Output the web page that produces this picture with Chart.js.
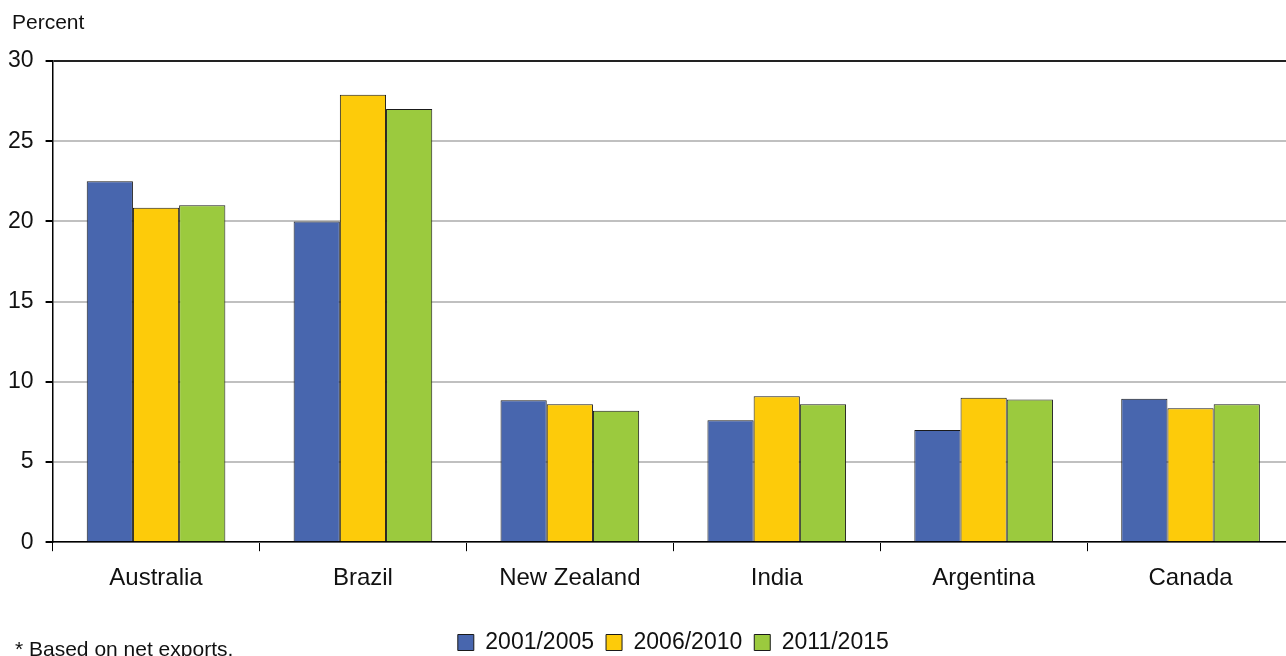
<!DOCTYPE html>
<html>
<head>
<meta charset="utf-8">
<script src="https://cdn.jsdelivr.net/npm/chart.js@4.4.1/dist/chart.umd.min.js"></script>
<style>
  html, body { margin: 0; padding: 0; background: #fff; overflow: hidden; }
  body { width: 1286px; height: 656px; position: relative; font-family: "Liberation Sans", Arial, sans-serif; }
  #wrap { position: absolute; left: 0; top: 0; width: 1294px; height: 656px; }
  .note { position: absolute; color: #111; line-height: 1; }
</style>
</head>
<body>
<div id="wrap"><canvas id="barChart"></canvas></div>
<div class="note" style="left:12px; top:11px; font-size:21px;">Percent</div>
<div class="note" style="left:15px; top:638px; font-size:21px;">* Based on net exports.</div>
<script>
// categorias y series
var countries = ["Australia", "Brazil", "New Zealand", "India", "Argentina", "Canada"];
var seriesNames = ["2001/2005", "2006/2010", "2011/2015"];
var s2001 = [22.5, 20.0, 8.85, 7.6, 7.0, 8.95];
var s2006 = [20.85, 27.9, 8.6, 9.1, 9.0, 8.35];
var s2011 = [21.0, 27.0, 8.2, 8.6, 8.9, 8.6];
var yTicks = [0, 5, 10, 15, 20, 25, 30];

var colors = ["#4866AE", "#FDCB0A", "#9BCA3E"];

var data = {
    labels: countries,
    datasets: [s2001, s2006, s2011].map(function (vals, i) {
        return {
            label: seriesNames[i],
            data: vals,
            backgroundColor: colors[i],
            borderColor: "#1a1a1a",
            borderWidth: 1,
            borderSkipped: "bottom",
            barPercentage: 1.0,
            categoryPercentage: 0.67
        };
    })
};

var options = {
    responsive: true,
    maintainAspectRatio: false,
    animation: false,
    layout: { padding: { left: -4, top: 61, right: 0, bottom: -8 } },
    plugins: {
        tooltip: { enabled: false },
        legend: {
            position: "bottom",
            fullSize: false,
            labels: {
                color: "#111",
                font: { family: "Liberation Sans", size: 23 },
                boxWidth: 16,
                boxHeight: 16,
                padding: 12
            }
        }
    },
    scales: {
        x: {
            grid: {
                offset: true,
                drawOnChartArea: false,
                color: "#000",
                tickLength: 9,
                lineWidth: 1
            },
            border: { color: "#000", width: 1.5 },
            ticks: {
                color: "#111",
                font: { family: "Liberation Sans", size: 24 },
                padding: 13
            },
            afterFit: function (scale) { scale.height += 13; }
        },
        y: {
            min: 0,
            max: 30,
            afterBuildTicks: function (axis) {
                axis.ticks = yTicks.map(function (v) { return { value: v }; });
            },
            grid: {
                color: function (c) {
                    return c.tick && c.tick.value === 30 ? "#222" : "#c0c0c0";
                },
                tickColor: "#000",
                lineWidth: 2,
                tickLength: 7
            },
            border: { color: "#000", width: 1.5 },
            ticks: {
                color: "#111",
                font: { family: "Liberation Sans", size: 23 },
                padding: 12
            }
        }
    }
};

var ctx = document.getElementById("barChart").getContext("2d");
var myBarChart = new Chart(ctx, { type: "bar", data: data, options: options });
</script>
</body>
</html>
